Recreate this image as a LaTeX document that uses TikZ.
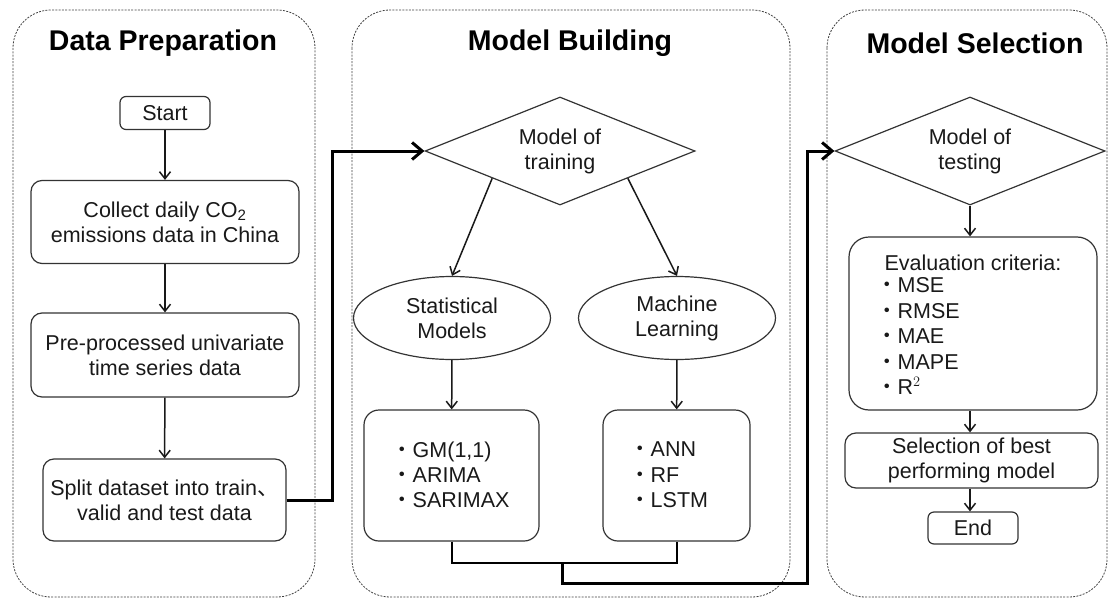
\documentclass[tikz,border=0pt]{standalone}
\usepackage{fontspec}
\setmainfont{Liberation Sans}
\newfontfamily\cjk{Noto Sans CJK SC}
\usetikzlibrary{shapes.geometric,arrows.meta}
\begin{document}
\begin{tikzpicture}[x=1pt,y=-1pt,
 panel/.style={draw=black!75, dash pattern=on 2pt off 1.3pt, line width=0.8pt, rounded corners=38pt},
 ttl/.style={font=\bfseries\fontsize{28.5}{32}\selectfont, text=black},
 txt/.style={font=\fontsize{21.5}{25}\selectfont, text=black!90},
 box/.style={draw=black!80, line width=1.2pt, rounded corners=11pt, txt, align=center, inner sep=0pt},
 dia/.style={draw=black!80, line width=1.2pt, diamond, aspect=2.5, minimum width=270pt, minimum height=108pt, inner sep=0pt, txt, align=center},
 ell/.style={draw=black!80, line width=1.2pt, ellipse, minimum width=197pt, minimum height=83pt, inner sep=0pt, txt, align=center},
 lst/.style={txt, align=left, anchor=west, inner sep=0pt, font=\fontsize{21.5}{25.3}\selectfont},
 arr/.style={-{Straight Barb[length=7pt,width=11pt]}, line width=1.5pt, black!90},
 thk/.style={line width=3pt, black},
 thkarr/.style={thk, -{Straight Barb[length=10pt,width=17pt]}},
]
\useasboundingbox (0,0) rectangle (1110,599);
% panels
\draw[panel] (13,10) rectangle (315,597);
\draw[panel] (352,10) rectangle (790,597);
\draw[panel] (827,10) rectangle (1107,597);
\node[ttl] (t1) at (163,43) {Data Preparation};
\node[ttl] (t2) at (570,43) {Model Building};
\node[ttl] (t3) at (975,43) {Model Selection};
% data preparation
\node[box, minimum width=90pt, minimum height=33pt, rounded corners=6pt] (start) at (165,113) {Start};
\node[box, minimum width=268pt, minimum height=83pt] (collect) at (165,222) {Collect daily CO\textsubscript{2}\\emissions data in China};
\node[box, minimum width=268pt, minimum height=84pt] (pre) at (165,355) {Pre-processed univariate\\time series data};
\node[box, minimum width=243pt, minimum height=82pt] (split) at (164.5,500) {Split dataset into train{\cjk 、}\\valid and test data};
\draw[arr] (start) -- (collect);
\draw[arr] (collect) -- (pre);
\draw[arr] (pre) -- (split);
% model building
\node[dia] (d1) at (560,151) {Model of\\training};
\node[ell] (stat) at (452,318) {Statistical\\Models};
\node[ell] (ml) at (677,318) {Machine\\Learning};
\node[box, minimum width=175pt, minimum height=131pt, rounded corners=15pt] (gmbox) at (451.5,475.5) {};
\node[box, minimum width=147pt, minimum height=131pt, rounded corners=15pt] (mlbox) at (676.5,475.5) {};
\node[lst] (gml) at (391,475) {{\cjk ・}GM(1,1)\\{\cjk ・}ARIMA\\{\cjk ・}SARIMAX};
\node[lst] (mll) at (629,475) {{\cjk ・}ANN\\{\cjk ・}RF\\{\cjk ・}LSTM};
\draw[arr] (d1.south west) -- (stat.north);
\draw[arr] (d1.south east) -- (ml.north);
\draw[arr] (stat) -- (gmbox);
\draw[arr] (ml) -- (mlbox);
% model selection
\node[dia] (d2) at (970,151) {Model of\\testing};
\node[box, minimum width=248pt, minimum height=173pt, rounded corners=20pt] (eval) at (973,323.5) {};
\node[txt] (evt) at (973,263) {Evaluation criteria:};
\node[lst, font=\fontsize{21.5}{25.5}\selectfont] (evl) at (876,336) {{\cjk ・}MSE\\{\cjk ・}RMSE\\{\cjk ・}MAE\\{\cjk ・}MAPE\\{\cjk ・}$\mathrm{R}^2$};
\node[box, minimum width=253pt, minimum height=55pt] (sel) at (971.5,460.5) {Selection of best\\performing model};
\node[box, minimum width=90pt, minimum height=32pt, rounded corners=6pt] (endn) at (973,528) {End};
\draw[arr] (d2.south) -- (d2.south |- eval.north);
\draw[arr] (d2.south |- eval.south) -- (d2.south |- sel.north);
\draw[arr] (d2.south |- sel.south) -- (d2.south |- endn.north);
% connectors
\draw[thkarr] (split.east) -- ++(46,0) |- (d1.west);
\coordinate (j1) at (562,563);
\coordinate (j2) at (807,583);
\draw[line width=2pt] (gmbox.south) |- (j1) -| (mlbox.south);
\draw[thkarr] (j1) -- (j1 |- j2) -- (j2) |- (d2.west);
\end{tikzpicture}
\end{document}
